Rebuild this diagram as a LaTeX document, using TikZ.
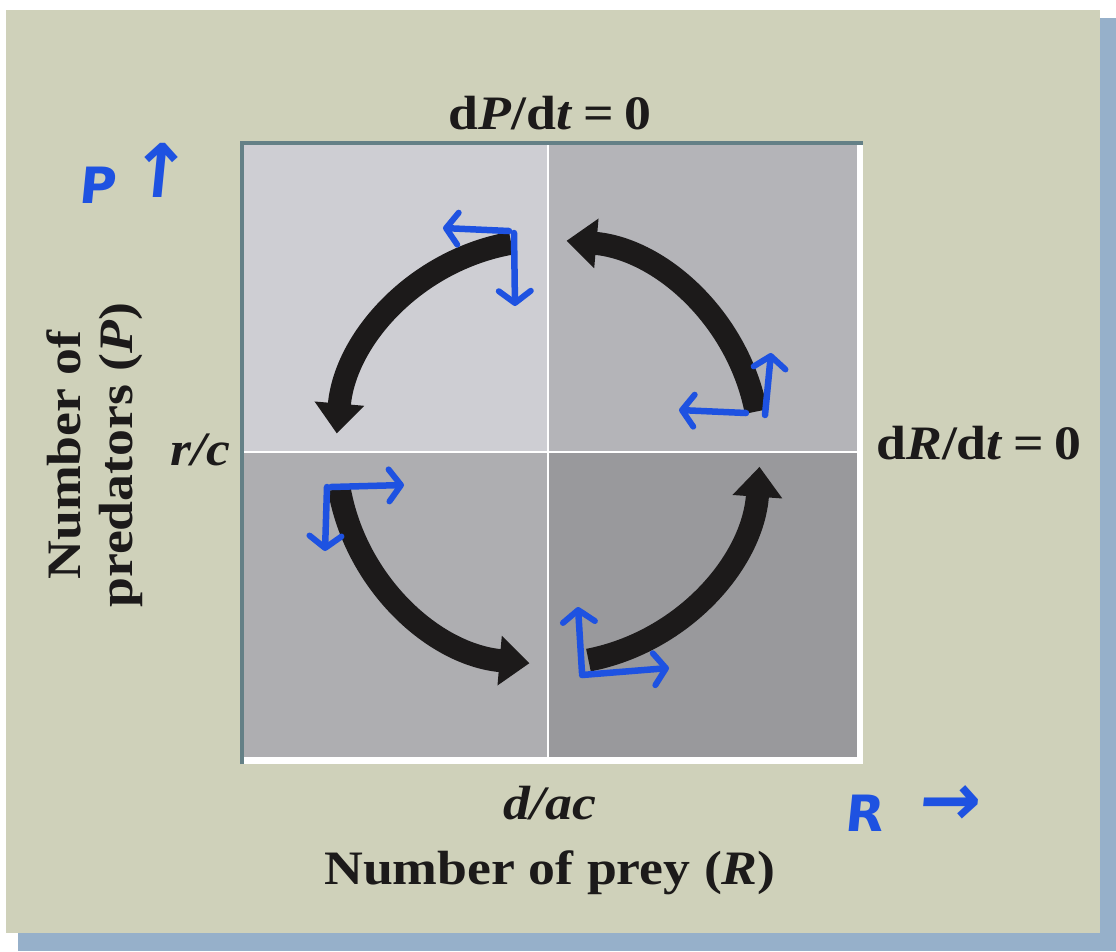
\documentclass[tikz,border=0pt]{standalone}
\usepackage{fontspec}
\setmainfont{Liberation Serif}[FakeStretch=1.12]
\newfontfamily\handfont{DejaVu Sans}[FakeSlant=0.1]
\usetikzlibrary{arrows.meta}
\definecolor{card}{RGB}{207,209,186}
\definecolor{shadowc}{RGB}{150,176,202}
\definecolor{frameline}{RGB}{100,128,134}
\definecolor{qtl}{RGB}{206,206,211}
\definecolor{qtr}{RGB}{180,180,184}
\definecolor{qbl}{RGB}{174,174,177}
\definecolor{qbr}{RGB}{153,153,156}
\definecolor{handblue}{RGB}{30,82,225}
\definecolor{ink}{RGB}{28,26,26}
\begin{document}
\begin{tikzpicture}[x=1pt,y=-1pt,
  lbl/.style={text=ink,inner sep=0pt,font=\fontsize{48}{52}\selectfont\bfseries},
  cycarrow/.style={draw=ink,line width=23pt,line cap=butt,-{Triangle[length=30pt,width=48pt]}},
  hand/.style={draw=handblue,line width=6.5pt,line cap=round,line join=round,-{Straight Barb[length=12pt,width=32pt,line width=6pt,line cap=round,line join=round]}},
  handtext/.style={text=handblue,inner sep=0pt,font=\handfont\fontsize{50}{50}\selectfont\bfseries},
  handarrow/.style={text=handblue,inner sep=0pt,font=\handfont\fontsize{74}{74}\selectfont\bfseries}]
\useasboundingbox (0,0) rectangle (1116,951);
% background, shadow, card
\fill[white] (0,0) rectangle (1116,951);
\fill[shadowc] (18,18) rectangle (1116,951);
\fill[card] (6,10) rectangle (1100,933);
% plot frame
\fill[white] (240,141) rectangle (863,764);
\fill[qtl] (244,145) rectangle (548,452);
\fill[qtr] (548,145) rectangle (857,452);
\fill[qbl] (244,452) rectangle (548,757);
\fill[qbr] (548,452) rectangle (857,757);
\draw[frameline,line width=4pt] (242,764) -- (242,143) -- (863,143);
\draw[white,line width=2.5pt] (548,145) -- (548,757);
\draw[white,line width=2.5pt] (244,452) -- (857,452);
% cycle arrows
\begin{scope}[shift={(548,452)},y=1pt]
  \draw[cycarrow] (100:212) arc[start angle=100,end angle=175,radius=212];
  \draw[cycarrow] (11:212) arc[start angle=11,end angle=85,radius=212];
  \draw[cycarrow] (190:212) arc[start angle=190,end angle=265,radius=212];
  \draw[cycarrow] (281:212) arc[start angle=281,end angle=356,radius=212];
\end{scope}
% hand-drawn direction arrows
\coordinate (tla) at (509,231);
\coordinate (tlb) at (443,228);
\coordinate (tlc) at (514,233);
\coordinate (tld) at (515,306);
\coordinate (tra) at (765,415);
\coordinate (trb) at (771,353);
\coordinate (trc) at (746,413);
\coordinate (trd) at (679,410);
\coordinate (bla) at (331,487);
\coordinate (blb) at (404,485);
\coordinate (blc) at (327,487);
\coordinate (bld) at (325,551);
\coordinate (bra) at (582,673);
\coordinate (brb) at (578,607);
\coordinate (brc) at (582,675);
\coordinate (brd) at (669,668);
\draw[hand] (tla) -- (tlb);
\draw[hand] (tlc) -- (tld);
\draw[hand] (tra) -- (trb);
\draw[hand] (trc) -- (trd);
\draw[hand] (bla) -- (blb);
\draw[hand] (blc) -- (bld);
\draw[hand] (bra) -- (brb);
\draw[hand] (brc) -- (brd);
% labels
\node[lbl] (dpdt) at (550,113) {d\textit{P}/d\textit{t}\hspace{0.22em}=\hspace{0.22em}0};
\node[lbl] (drdt) at (979,443) {d\textit{R}/d\textit{t}\hspace{0.22em}=\hspace{0.22em}0};
\node[lbl] (rc) at (200,450) {\textit{r/c}};
\node[lbl] (dac) at (550,803) {\textit{d/ac}};
\node[lbl] (xlab) at (550,873) {Number of prey (\textit{R})};
\node[lbl,rotate=90,align=center] (ylab) at (95,455) {Number of\\predators (\textit{P})};
% handwritten axis notes
\node[handtext] (hp) at (97,185) {P};
\node[handarrow] (hpa) at (158,170) {↑};
\node[handtext] (hr) at (864,813) {R};
\node[handarrow] (hra) at (948,806) {→};
\end{tikzpicture}
\end{document}
